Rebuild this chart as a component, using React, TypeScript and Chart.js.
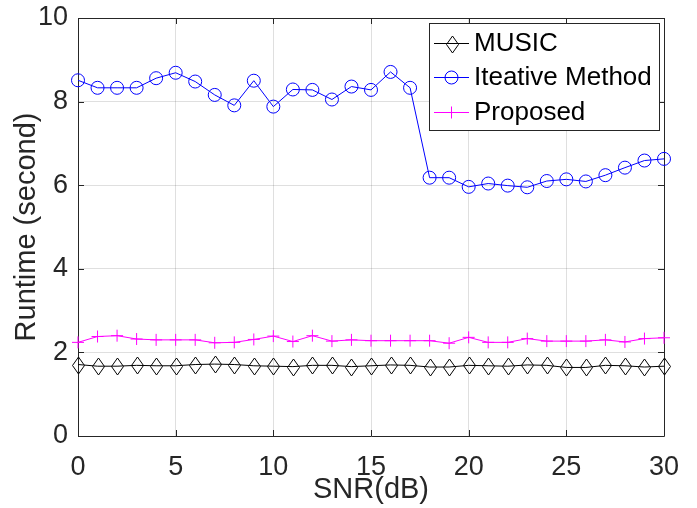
import React, { useEffect, useRef } from "react";
import { Chart, registerables } from "chart.js";

Chart.register(...registerables);

// ---- data ----
const snr = [0, 1, 2, 3, 4, 5, 6, 7, 8, 9, 10, 11, 12, 13, 14, 15, 16, 17, 18, 19, 20, 21, 22, 23, 24, 25, 26, 27, 28, 29, 30];
const musicRuntime = [1.71, 1.67, 1.67, 1.69, 1.68, 1.68, 1.71, 1.72, 1.71, 1.68, 1.67, 1.66, 1.69, 1.69, 1.66, 1.68, 1.70, 1.69, 1.65, 1.65, 1.69, 1.68, 1.67, 1.70, 1.69, 1.64, 1.64, 1.69, 1.68, 1.65, 1.67];
const iterativeRuntime = [8.51, 8.33, 8.33, 8.33, 8.56, 8.69, 8.48, 8.16, 7.91, 8.50, 7.88, 8.29, 8.28, 8.05, 8.36, 8.28, 8.71, 8.33, 6.18, 6.18, 5.96, 6.04, 5.99, 5.95, 6.10, 6.14, 6.09, 6.24, 6.42, 6.59, 6.63];
const proposedRuntime = [2.24, 2.38, 2.40, 2.32, 2.30, 2.30, 2.30, 2.23, 2.24, 2.31, 2.39, 2.26, 2.40, 2.27, 2.30, 2.28, 2.28, 2.28, 2.28, 2.22, 2.36, 2.24, 2.24, 2.33, 2.27, 2.27, 2.27, 2.30, 2.25, 2.33, 2.35];
const seriesNames = ["MUSIC", "Iteative Method", "Proposed"];
const xTickValues = [0, 5, 10, 15, 20, 25, 30];
const yTickValues = [0, 2, 4, 6, 8, 10];
const xTitle = "SNR(dB)";
const yTitle = "Runtime (second)";

// ---- styling / layout ----
const W = 697;
const H = 508;
const AREA = { left: 78, right: 664, top: 18, bottom: 436 };
const AXIS_COLOR = "#262626";
const GRID_COLOR = "rgba(38,38,38,0.15)";
const FONT = "'Liberation Sans', Arial, Helvetica, sans-serif";
const COLORS = ["#000000", "#0000ff", "#ff00ff"];

function drawDiamond(ctx: CanvasRenderingContext2D, x: number, y: number) {
  const cx = Math.round(x) + 0.5;
  const cy = Math.round(y) + 0.5;
  ctx.beginPath();
  ctx.moveTo(cx, cy - 8.5);
  ctx.lineTo(cx + 6, cy);
  ctx.lineTo(cx, cy + 8.5);
  ctx.lineTo(cx - 6, cy);
  ctx.closePath();
  ctx.stroke();
}

function drawMarker(ctx: CanvasRenderingContext2D, kind: number, x: number, y: number) {
  ctx.save();
  ctx.strokeStyle = COLORS[kind];
  ctx.lineWidth = 1;
  if (kind === 0) {
    drawDiamond(ctx, x, y);
  } else if (kind === 1) {
    ctx.beginPath();
    ctx.arc(x, y, 6.5, 0, Math.PI * 2);
    ctx.stroke();
  } else {
    ctx.beginPath();
    ctx.moveTo(x - 6, y);
    ctx.lineTo(x + 6, y);
    ctx.moveTo(x, y - 6);
    ctx.lineTo(x, y + 6);
    ctx.stroke();
  }
  ctx.restore();
}

export default function App() {
  const ref = useRef<HTMLCanvasElement | null>(null);

  useEffect(() => {
    const canvas = ref.current;
    if (!canvas) return;

    const boxPlugin = {
      id: "matlabBox",
      beforeDatasetsDraw(chart: any) {
        const { ctx, chartArea, scales } = chart;
        const { left, right, top, bottom } = chartArea;
        ctx.save();
        ctx.strokeStyle = AXIS_COLOR;
        ctx.lineWidth = 1;
        ctx.beginPath();
        ctx.rect(Math.round(left) + 0.5, Math.round(top) + 0.5, Math.round(right - left), Math.round(bottom - top));
        ctx.stroke();
        const tl = 6;
        ctx.beginPath();
        for (const v of xTickValues) {
          const px = Math.round(scales.x.getPixelForValue(v)) + 0.5;
          ctx.moveTo(px, bottom);
          ctx.lineTo(px, bottom - tl);
          ctx.moveTo(px, top);
          ctx.lineTo(px, top + tl);
        }
        for (const v of yTickValues) {
          const py = Math.round(scales.y.getPixelForValue(v)) + 0.5;
          ctx.moveTo(left, py);
          ctx.lineTo(left + tl, py);
          ctx.moveTo(right, py);
          ctx.lineTo(right - tl, py);
        }
        ctx.stroke();
        ctx.restore();
      },
    };

    const diamondPlugin = {
      id: "diamondMarkers",
      afterDatasetsDraw(chart: any) {
        const ctx: CanvasRenderingContext2D = chart.ctx;
        const meta = chart.getDatasetMeta(0);
        ctx.save();
        ctx.strokeStyle = COLORS[0];
        ctx.lineWidth = 1;
        for (const el of meta.data) {
          drawDiamond(ctx, el.x, el.y);
        }
        ctx.restore();
      },
    };

    const legendPlugin = {
      id: "matlabLegend",
      afterDraw(chart: any) {
        const ctx: CanvasRenderingContext2D = chart.ctx;
        const x0 = 429;
        const y0 = 23;
        const w = 230;
        const h = 107;
        ctx.save();
        ctx.fillStyle = "#ffffff";
        ctx.fillRect(x0, y0, w, h);
        ctx.strokeStyle = AXIS_COLOR;
        ctx.lineWidth = 1;
        ctx.strokeRect(x0 + 0.5, y0 + 0.5, w, h);
        const rowsY = [43, 77, 112];
        ctx.font = `26px ${FONT}`;
        ctx.textBaseline = "middle";
        ctx.textAlign = "left";
        seriesNames.forEach((name, i) => {
          const y = rowsY[i];
          ctx.strokeStyle = COLORS[i];
          ctx.lineWidth = 1;
          ctx.beginPath();
          ctx.moveTo(434, y + 0.5);
          ctx.lineTo(469, y + 0.5);
          ctx.stroke();
          drawMarker(ctx, i, 451.5, y + 0.5);
          ctx.fillStyle = "#000000";
          ctx.fillText(name, 474, y + 1);
        });
        ctx.restore();
      },
    };

    const mk = (vals: number[]) => snr.map((s, i) => ({ x: s, y: vals[i] }));
    const series = [musicRuntime, iterativeRuntime, proposedRuntime];
    const styles: any[] = ["circle", "circle", "cross"];

    const chart = new Chart(canvas, {
      type: "line",
      data: {
        datasets: series.map((vals, i) => ({
          label: seriesNames[i],
          data: mk(vals),
          borderColor: COLORS[i],
          backgroundColor: "rgba(0,0,0,0)",
          borderWidth: 1,
          pointStyle: styles[i],
          pointRadius: i === 0 ? 0 : i === 1 ? 6.5 : 6,
          pointBorderWidth: 1,
          pointBorderColor: COLORS[i],
          pointBackgroundColor: "rgba(0,0,0,0)",
          tension: 0,
          clip: false as any,
        })),
      },
      options: {
        responsive: false,
        animation: false,
        devicePixelRatio: 1,
        events: [],
        layout: {
          padding: { left: 0, right: W - AREA.right, top: AREA.top, bottom: 0 },
        },
        plugins: {
          legend: { display: false },
          tooltip: { enabled: false },
          title: { display: false },
        },
        scales: {
          x: {
            type: "linear",
            min: 0,
            max: 30,
            afterBuildTicks: (s: any) => {
              s.ticks = xTickValues.map((v) => ({ value: v }));
            },
            afterFit: (s: any) => {
              s.height = H - AREA.bottom;
            },
            grid: { color: GRID_COLOR, drawTicks: false, tickLength: 0 },
            border: { display: false },
            ticks: {
              color: AXIS_COLOR,
              padding: 15,
              maxRotation: 0,
              font: { family: FONT, size: 27, lineHeight: 1.2 },
            },
            title: {
              display: true,
              text: xTitle,
              color: AXIS_COLOR,
              font: { family: FONT, size: 29, lineHeight: 1 },
              padding: { top: 0, bottom: 4 },
            },
          },
          y: {
            type: "linear",
            min: 0,
            max: 10,
            afterBuildTicks: (s: any) => {
              s.ticks = yTickValues.map((v) => ({ value: v }));
            },
            afterFit: (s: any) => {
              s.width = AREA.left;
            },
            grid: { color: GRID_COLOR, drawTicks: false, tickLength: 0 },
            border: { display: false },
            ticks: {
              color: AXIS_COLOR,
              padding: 10,
              font: { family: FONT, size: 27, lineHeight: 0.4 },
            },
            title: {
              display: true,
              text: yTitle,
              color: AXIS_COLOR,
              font: { family: FONT, size: 29, lineHeight: 1 },
              padding: { top: 12, bottom: 0 },
            },
          },
        },
      },
      plugins: [boxPlugin, diamondPlugin, legendPlugin],
    });

    return () => chart.destroy();
  }, []);

  return (
    <div style={{ position: "fixed", left: 0, top: 0, width: W, height: H, background: "#ffffff" }}>
      <canvas ref={ref} width={W} height={H} style={{ display: "block", width: W, height: H }} />
    </div>
  );
}
